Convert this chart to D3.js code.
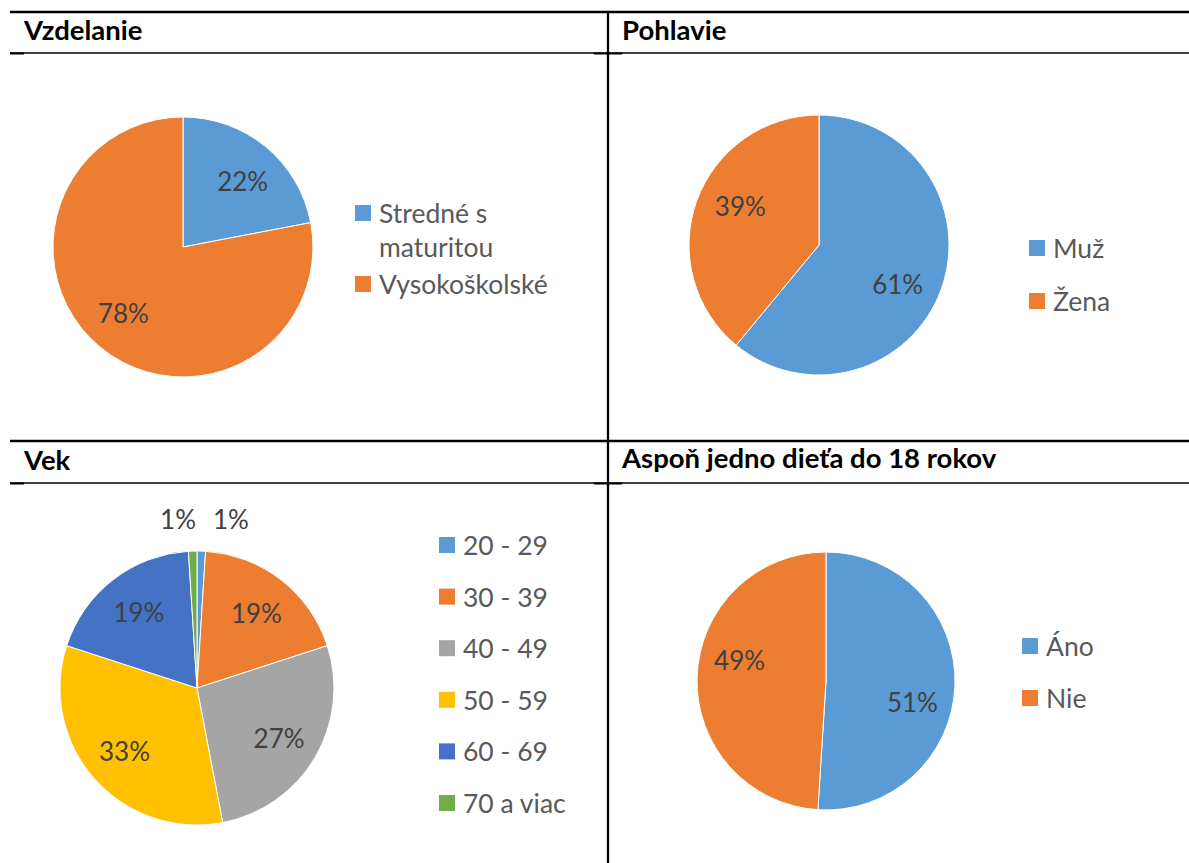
<!DOCTYPE html>
<html>
<head>
<meta charset="utf-8">
<script src="https://cdn.jsdelivr.net/npm/d3@7"></script>
<style>
  body { margin: 0; background: #fff; }
  svg { display: block; }
</style>
</head>
<body>
<svg id="chart" width="1189" height="863"></svg>
<script>
// ---- data ----
const panelTitles = ["Vzdelanie", "Pohlavie", "Vek", "Aspoň jedno dieťa do 18 rokov"];

const eduCategories = ["Stredné s maturitou", "Vysokoškolské"];
const eduValues = [22, 78];

const genderCategories = ["Muž", "Žena"];
const genderValues = [61, 39];

const ageCategories = ["20 - 29", "30 - 39", "40 - 49", "50 - 59", "60 - 69", "70 a viac"];
const ageValues = [1, 19, 27, 33, 19, 1];

const childCategories = ["Áno", "Nie"];
const childValues = [51, 49];

const palette = ["#5B9BD5", "#ED7D31", "#A5A5A5", "#FFC000", "#4472C4", "#70AD47"];

// ---- layout ----
const FONT = "Lato, 'Open Sans', sans-serif";
const svg = d3.select("#chart");

// labelTurn: extra clockwise turn (degrees) of the in-slice labels
const panels = [
  { title: panelTitles[0], cats: eduCategories, vals: eduValues,
    titleX: 24, titleY: 40, cx: 183, cy: 247, r: 130, labelK: 0.685, labelTurn: 2.5,
    legX: 355, legY: 213, legGap: 37, legWrap: 180 },
  { title: panelTitles[1], cats: genderCategories, vals: genderValues,
    titleX: 622, titleY: 40, cx: 819, cy: 245, r: 130, labelK: 0.675, labelTurn: 6.5,
    legX: 1029, legY: 248, legGap: 53, legWrap: 200 },
  { title: panelTitles[2], cats: ageCategories, vals: ageValues,
    titleX: 24, titleY: 470, cx: 197, cy: 688, r: 137, labelK: 0.70, labelTurn: 0.5,
    legX: 439, legY: 545, legGap: 51.6, legWrap: 200 },
  { title: panelTitles[3], cats: childCategories, vals: childValues,
    titleX: 622, titleY: 468, cx: 826, cy: 681, r: 129, labelK: 0.69, labelTurn: 12,
    legX: 1022, legY: 646, legGap: 52, legWrap: 200 }
];

// ---- table rules ----
const rules = svg.append("g").attr("stroke", "#000");
[
  { x1: 10, y1: 12, x2: 1189, y2: 12, w: 2.5 },
  { x1: 10, y1: 53, x2: 1189, y2: 53, w: 1.3 },
  { x1: 10, y1: 441, x2: 1189, y2: 441, w: 2.3 },
  { x1: 10, y1: 483, x2: 1189, y2: 483, w: 1.3 },
  { x1: 608, y1: 11, x2: 608, y2: 863, w: 2.3 },
  { x1: 10, y1: 53.5, x2: 24, y2: 53.5, w: 2 },
  { x1: 10, y1: 483.5, x2: 24, y2: 483.5, w: 2 },
  { x1: 594, y1: 53.5, x2: 622, y2: 53.5, w: 2 },
  { x1: 594, y1: 483.5, x2: 622, y2: 483.5, w: 2 }
].forEach(l => rules.append("line")
  .attr("x1", l.x1).attr("y1", l.y1).attr("x2", l.x2).attr("y2", l.y2)
  .attr("stroke-width", l.w));

// ---- panels ----
const pie = d3.pie().sort(null).value(d => d);

panels.forEach(p => {
  const g = svg.append("g");

  g.append("text")
    .attr("x", p.titleX).attr("y", p.titleY)
    .attr("font-family", FONT).attr("font-weight", 700)
    .attr("font-size", 27.5).attr("fill", "#000")
    .text(p.title);

  const color = d3.scaleOrdinal().domain(p.cats).range(palette);
  const arcs = pie(p.vals);
  const arc = d3.arc().innerRadius(0).outerRadius(p.r);
  const turn = p.labelTurn * Math.PI / 180;
  const labelArc = d3.arc().innerRadius(p.r * p.labelK).outerRadius(p.r * p.labelK)
    .startAngle(d => d.startAngle + turn).endAngle(d => d.endAngle + turn);

  const pg = g.append("g").attr("transform", `translate(${p.cx},${p.cy})`);
  pg.selectAll("path").data(arcs).join("path")
    .attr("d", arc)
    .attr("fill", (d, i) => color(p.cats[i]))
    .attr("stroke", "#fff").attr("stroke-width", 1);

  pg.selectAll("text").data(arcs).join("text")
    .attr("font-family", FONT).attr("font-size", 26).attr("fill", "#404040")
    .attr("dominant-baseline", "central")
    .each(function (d) {
      const t = d3.select(this);
      if (d.value < 3) {
        // small slices: label lifted above the pie, split left/right of the top
        const mid = (d.startAngle + d.endAngle) / 2;
        const right = mid < Math.PI;
        t.attr("x", right ? 16 : -1)
         .attr("y", -p.r - 32)
         .attr("text-anchor", right ? "start" : "end");
      } else {
        const c = labelArc.centroid(d);
        t.attr("x", c[0]).attr("y", c[1]).attr("text-anchor", "middle");
      }
    })
    .text(d => d.value + "%");

  // legend
  const lg = g.append("g");
  let y = p.legY;
  p.cats.forEach((c, i) => {
    lg.append("rect")
      .attr("x", p.legX).attr("y", y - 8)
      .attr("width", 16).attr("height", 16)
      .attr("fill", color(c));
    const txt = lg.append("text")
      .attr("x", p.legX + 24).attr("y", y)
      .attr("font-family", FONT).attr("font-size", 26.5).attr("fill", "#595959")
      .attr("dominant-baseline", "central");
    // greedy word wrap within the legend width
    const words = c.split(" ");
    let line = [], lines = [];
    const probe = txt.append("tspan");
    words.forEach(w => {
      const trial = line.concat([w]).join(" ");
      probe.text(trial);
      if (probe.node().getComputedTextLength() > p.legWrap && line.length) {
        lines.push(line.join(" "));
        line = [w];
      } else {
        line.push(w);
      }
    });
    lines.push(line.join(" "));
    probe.remove();
    lines.forEach((ln, k) => {
      txt.append("tspan").attr("x", p.legX + 24)
        .attr("dy", k === 0 ? 0 : 34).text(ln);
    });
    y += p.legGap + (lines.length - 1) * 34;
  });
});
</script>
</body>
</html>
